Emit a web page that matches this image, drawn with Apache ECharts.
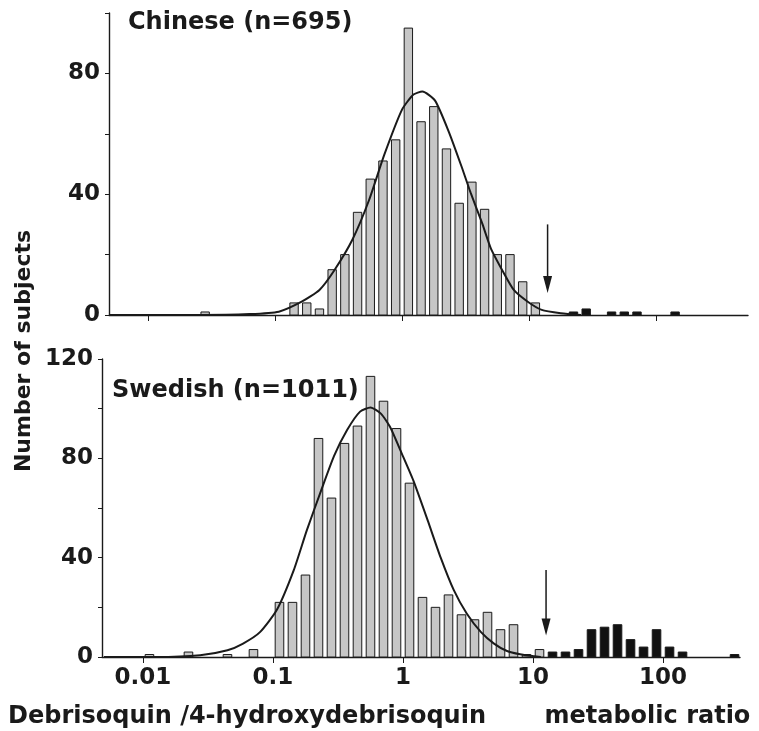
<!DOCTYPE html>
<html><head><meta charset="utf-8">
<script src="https://cdn.jsdelivr.net/npm/echarts@6/dist/echarts.min.js"></script>
<style>html,body{margin:0;padding:0;background:#fff}#c{width:759px;height:731px}</style>
</head><body><div id="c"></div>
<script>
// ---- tick labels ----
const xTickValues = [0.01, 0.1, 1, 10, 100];
const xTickLabels = ['0.01', '0.1', '1', '10', '100'];

// ---- Chinese panel (bins are 0.1 log10 units wide; values are log10 of bin centres) ----
const chineseEMBinLog = [-1.55, -0.85, -0.75, -0.65, -0.55, -0.45, -0.35, -0.25, -0.15, -0.05, 0.05, 0.15, 0.25, 0.35, 0.45, 0.55, 0.65, 0.75, 0.85, 0.95, 1.05];
const chineseEMCounts = [1, 4, 4, 2, 15, 20, 34, 45, 51, 58, 95, 64, 69, 55, 37, 44, 35, 20, 20, 11, 4];
const chinesePMBinLog = [1.35, 1.45, 1.65, 1.75, 1.85, 2.15];
const chinesePMCounts = [1, 2, 1, 1, 1, 1];
const chineseCurveLog = [-2.3, -1.6, -1.2, -0.97, -0.79, -0.65, -0.53, -0.39, -0.26, -0.14, 0.0, 0.09, 0.16, 0.26, 0.37, 0.47, 0.54, 0.63, 0.70, 0.80, 0.88, 0.99, 1.10, 1.25, 1.41];
const chineseCurveY = [0, 0, 0.3, 1.1, 4.4, 8.3, 15, 25, 38, 53, 68, 73, 74, 71, 60.5, 49, 40.5, 30.5, 22, 14, 8.3, 4.4, 1.7, 0.6, 0];
const chineseArrowRatio = 14;
const chineseArrowFrom = 30;
const chineseArrowTo = 7.3;

// ---- Swedish panel ----
const swedishEMBinLog = [-1.95, -1.65, -1.35, -1.15, -0.95, -0.85, -0.75, -0.65, -0.55, -0.45, -0.35, -0.25, -0.15, -0.05, 0.05, 0.15, 0.25, 0.35, 0.45, 0.55, 0.65, 0.75, 0.85, 0.95, 1.05];
const swedishEMCounts = [1, 2, 1, 3, 22, 22, 33, 88, 64, 86, 93, 113, 103, 92, 70, 24, 20, 25, 17, 15, 18, 11, 13, 1, 3];
const swedishPMBinLog = [1.15, 1.25, 1.35, 1.45, 1.55, 1.65, 1.75, 1.85, 1.95, 2.05, 2.15, 2.55];
const swedishPMCounts = [2, 2, 3, 11, 12, 13, 7, 4, 11, 4, 2, 1];
const swedishCurveLog = [-2.3, -1.9, -1.56, -1.35, -1.23, -1.10, -0.97, -0.84, -0.74, -0.63, -0.53, -0.43, -0.33, -0.25, -0.17, -0.10, -0.01, 0.08, 0.19, 0.29, 0.39, 0.49, 0.60, 0.70, 0.80, 0.90, 1.01, 1.06];
const swedishCurveY = [0, 0, 0.7, 2.7, 5.4, 10, 19, 35, 51, 67, 81, 91.4, 98.8, 100.5, 98, 92.7, 82, 71, 55, 40, 27, 17.5, 10, 5.4, 2.4, 1.1, 0.3, 0];
const swedishArrowRatio = 12.6;
const swedishArrowFrom = 35;
const swedishArrowTo = 8.7;

// ---- helpers ----
const FONT = '"DejaVu Sans", "Liberation Sans", sans-serif';
const INK = '#1a1a1a';
const HALF = 0.033; // half bar width in log10 units

function pairs(logs, vals) { return logs.map((l, i) => [Math.pow(10, l), vals[i]]); }

function barRenderer(fill) {
  return function (params, api) {
    const c = Math.log10(api.value(0));
    const v = api.value(1);
    const p0 = api.coord([Math.pow(10, c - HALF), v]);
    const p1 = api.coord([Math.pow(10, c + HALF), 0]);
    return {
      type: 'rect',
      shape: { x: p0[0], y: p0[1], width: p1[0] - p0[0], height: p1[1] - p0[1] },
      style: { fill: fill, stroke: INK, lineWidth: 1 }
    };
  };
}
function arrowRenderer(params, api) {
  const a = api.coord([api.value(0), api.value(1)]);
  const b = api.coord([api.value(0), api.value(2)]);
  return {
    type: 'group',
    children: [
      { type: 'line', shape: { x1: a[0], y1: a[1], x2: b[0], y2: b[1] - 8 }, style: { stroke: INK, lineWidth: 1.5 } },
      { type: 'polygon', shape: { points: [[b[0] - 4.5, b[1] - 17], [b[0] + 4.5, b[1] - 17], [b[0], b[1]]] }, style: { fill: INK } }
    ]
  };
}

const axisLineStyle = { color: INK, width: 1.4 };
function yAxis(idx, max) {
  return {
    type: 'value', gridIndex: idx, min: 0, max: max, interval: 20,
    axisLine: { show: true, lineStyle: axisLineStyle },
    axisTick: { show: true, length: 4, lineStyle: { color: INK, width: 1 } },
    axisLabel: { formatter: v => (v % 40 === 0 ? String(v) : ''), fontFamily: FONT, fontWeight: 'bold', fontSize: 23, color: INK, margin: 9 },
    splitLine: { show: false }
  };
}
function xAxis(idx, min, max, showLabels) {
  return {
    type: 'log', logBase: 10, gridIndex: idx, min: min, max: max,
    axisLine: { show: true, onZero: false, lineStyle: axisLineStyle },
    axisTick: { show: true, length: 6, customValues: xTickValues, lineStyle: { color: INK, width: 1 } },
    axisLabel: {
      show: showLabels, customValues: xTickValues,
      formatter: v => { const i = xTickValues.findIndex(t => Math.abs(Math.log10(t) - Math.log10(v)) < 1e-6); return i >= 0 ? xTickLabels[i] : ''; },
      fontFamily: FONT, fontWeight: 'bold', fontSize: 23, color: INK, margin: 10
    },
    splitLine: { show: false }, minorTick: { show: false }
  };
}

const chart = echarts.init(document.getElementById('c'), null, { renderer: 'canvas' });
chart.setOption({
  animation: false,
  backgroundColor: '#ffffff',
  title: [
    { text: 'Chinese (n=695)', left: 128, top: 11, padding: 0, textStyle: { fontFamily: FONT, fontWeight: 'bold', fontSize: 24, color: INK } },
    { text: 'Swedish (n=1011)', left: 112, top: 379, padding: 0, textStyle: { fontFamily: FONT, fontWeight: 'bold', fontSize: 24, color: INK } }
  ],
  grid: [
    { left: 109, top: 13, width: 639, height: 302 },
    { left: 102, top: 359, width: 638, height: 298 }
  ],
  xAxis: [
    xAxis(0, Math.pow(10, -2.307), Math.pow(10, 2.724), false),
    xAxis(1, Math.pow(10, -2.315), Math.pow(10, 2.592), true)
  ],
  yAxis: [yAxis(0, 100), yAxis(1, 120)],
  graphic: [
    { type: 'text', x: 24, y: 351, rotation: Math.PI / 2,
      style: { text: 'Number of subjects', font: 'bold 22px ' + FONT, fill: INK, align: 'center', verticalAlign: 'middle' } },
    { type: 'text', x: 8, y: 717,
      style: { text: 'Debrisoquin /4-hydroxydebrisoquin       metabolic ratio', font: 'bold 24px ' + FONT, fill: INK, align: 'left', verticalAlign: 'middle' } }
  ],
  series: [
    { type: 'custom', xAxisIndex: 0, yAxisIndex: 0, renderItem: barRenderer('#c6c6c6'), encode: { x: 0, y: 1 }, data: pairs(chineseEMBinLog, chineseEMCounts), z: 2 },
    { type: 'custom', xAxisIndex: 0, yAxisIndex: 0, renderItem: barRenderer('#111111'), encode: { x: 0, y: 1 }, data: pairs(chinesePMBinLog, chinesePMCounts), z: 2 },
    { type: 'line', xAxisIndex: 0, yAxisIndex: 0, data: pairs(chineseCurveLog, chineseCurveY), symbol: 'none', smooth: 0.2, lineStyle: { color: INK, width: 2 }, z: 3 },
    { type: 'custom', xAxisIndex: 0, yAxisIndex: 0, renderItem: arrowRenderer, encode: { x: 0, y: [1, 2] }, data: [[chineseArrowRatio, chineseArrowFrom, chineseArrowTo]], z: 4 },

    { type: 'custom', xAxisIndex: 1, yAxisIndex: 1, renderItem: barRenderer('#c6c6c6'), encode: { x: 0, y: 1 }, data: pairs(swedishEMBinLog, swedishEMCounts), z: 2 },
    { type: 'custom', xAxisIndex: 1, yAxisIndex: 1, renderItem: barRenderer('#111111'), encode: { x: 0, y: 1 }, data: pairs(swedishPMBinLog, swedishPMCounts), z: 2 },
    { type: 'line', xAxisIndex: 1, yAxisIndex: 1, data: pairs(swedishCurveLog, swedishCurveY), symbol: 'none', smooth: 0.2, lineStyle: { color: INK, width: 2 }, z: 3 },
    { type: 'custom', xAxisIndex: 1, yAxisIndex: 1, renderItem: arrowRenderer, encode: { x: 0, y: [1, 2] }, data: [[swedishArrowRatio, swedishArrowFrom, swedishArrowTo]], z: 4 }
  ]
});
</script></body></html>
